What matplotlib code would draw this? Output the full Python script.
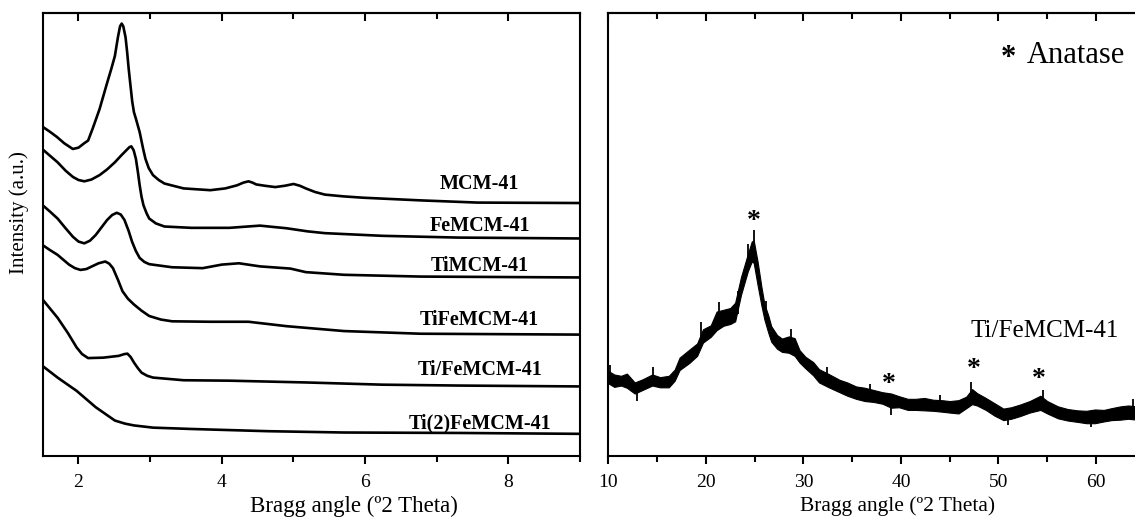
import matplotlib
matplotlib.use("Agg")
import matplotlib.pyplot as plt
from matplotlib.ticker import MultipleLocator

plt.rcParams['font.family'] = ['Liberation Serif', 'DejaVu Serif']

# ---------------- Left panel data (low-angle XRD, stacked, a.u.) ----------------
mcm_x = [1.5, 1.6, 1.7, 1.8, 1.921, 2.0, 2.08, 2.134, 2.2, 2.294, 2.401, 2.46, 2.508, 2.55,
         2.58, 2.603, 2.625, 2.657, 2.68, 2.70, 2.721, 2.75, 2.774, 2.80, 2.854, 2.90, 2.934,
         2.98, 3.040, 3.12, 3.2, 3.467, 3.840, 4.05, 4.213, 4.30, 4.373, 4.43, 4.48, 4.6,
         4.746, 4.88, 5.002, 5.09, 5.173, 5.3, 5.439, 5.7, 5.973, 6.772, 7.572, 9.0]
mcm_y = [74.3, 73.2, 72.0, 70.6, 69.3, 69.6, 70.6, 71.2, 74.0, 78.3, 84.3, 87.5, 90.3, 94.5,
         97.0, 97.6, 97.0, 94.5, 91.0, 87.5, 84.3, 80.0, 77.6, 76.2, 73.1, 69.5, 67.1,
         65.0, 63.4, 62.3, 61.5, 60.4, 60.0, 60.4, 61.1, 61.7, 62.0, 61.7, 61.3, 61.0,
         60.7, 61.0, 61.4, 61.0, 60.4, 59.6, 59.0, 58.6, 58.3, 57.7, 57.2, 57.1]

fe_x = [1.5, 1.6, 1.708, 1.82, 1.921, 2.0, 2.081, 2.18, 2.294, 2.40, 2.508, 2.6, 2.667, 2.71,
        2.737, 2.77, 2.801, 2.83, 2.854, 2.88, 2.907, 2.95, 2.987, 3.08, 3.2, 3.574, 4.107,
        4.533, 4.906, 5.2, 5.439, 6.239, 7.305, 9.0]
fe_y = [69.2, 67.8, 66.3, 64.4, 63.0, 62.3, 62.0, 62.4, 63.4, 64.7, 66.3, 67.9, 69.0, 69.7,
        69.9, 69.0, 67.1, 64.0, 61.1, 58.5, 56.6, 54.8, 53.6, 52.5, 51.8, 51.5, 51.5,
        52.0, 51.4, 50.7, 50.3, 49.7, 49.3, 49.1]

ti_x = [1.5, 1.6, 1.708, 1.82, 1.921, 2.0, 2.081, 2.16, 2.241, 2.33, 2.401, 2.47, 2.534, 2.59,
        2.641, 2.70, 2.747, 2.80, 2.854, 2.92, 2.987, 3.307, 3.734, 4.000, 4.240, 4.533,
        4.959, 5.173, 5.706, 6.772, 9.0]
ti_y = [56.6, 55.2, 53.6, 51.4, 49.5, 48.4, 48.0, 48.6, 49.9, 51.8, 53.3, 54.4, 54.9, 54.5,
        53.3, 50.8, 48.4, 46.3, 44.7, 43.8, 43.3, 42.6, 42.4, 43.2, 43.5, 42.8,
        42.3, 41.5, 40.9, 40.5, 40.3]

tife_x = [1.5, 1.6, 1.708, 1.868, 1.95, 2.028, 2.11, 2.188, 2.28, 2.374, 2.43, 2.481, 2.55,
          2.614, 2.69, 2.774, 2.88, 2.987, 3.15, 3.307, 3.840, 4.373, 4.906, 5.706, 6.772, 9.0]
tife_y = [47.6, 46.5, 45.4, 43.2, 42.4, 42.0, 42.2, 42.8, 43.5, 43.9, 43.4, 42.4, 39.8,
          37.2, 35.5, 34.2, 32.8, 31.6, 30.8, 30.4, 30.3, 30.3, 29.3, 28.2, 27.6, 27.4]

tisfe_x = [1.5, 1.708, 1.85, 1.974, 2.05, 2.134, 2.348, 2.561, 2.64, 2.683, 2.73, 2.774, 2.83,
           2.881, 2.96, 3.040, 3.467, 4.107, 5.173, 6.239, 7.305, 9.0]
tisfe_y = [35.3, 31.2, 27.8, 24.5, 23.0, 22.1, 22.2, 22.6, 23.0, 23.1, 22.3, 21.1, 19.8,
           18.8, 18.1, 17.7, 17.1, 17.0, 16.6, 16.1, 15.9, 15.7]

ti2fe_x = [1.5, 1.708, 1.974, 2.241, 2.508, 2.65, 2.774, 3.040, 3.574, 4.640, 5.706, 7.305, 9.0]
ti2fe_y = [20.3, 17.7, 14.7, 11.0, 8.0, 7.3, 6.9, 6.4, 6.1, 5.6, 5.3, 5.2, 5.0]

left_labels = ["MCM-41", "FeMCM-41", "TiMCM-41", "TiFeMCM-41", "Ti/FeMCM-41", "Ti(2)FeMCM-41"]
label_x = 7.6
label_y = [61.5, 51.9, 42.9, 30.8, 19.4, 7.4]

# ---------------- Right panel data (wide-angle XRD of Ti/FeMCM-41) ----------------
wa_x = [10.0, 10.6, 11.3, 11.9, 12.7, 13.5, 14.5, 15.3, 16.2, 16.8, 17.3, 18.3, 19.1, 19.7,
        20.5, 21.1, 21.8, 22.5, 23.0, 23.6, 24.3, 24.7, 24.9, 25.3, 25.7, 26.0, 26.4, 26.7,
        27.3, 27.8, 28.5, 29.1, 29.6, 30.2, 31.0, 31.6, 32.6, 33.7, 34.5, 35.4, 36.3, 37.2,
        38.1, 39.0, 39.8, 40.7, 41.5, 42.4, 43.3, 44.2, 45.0, 45.9, 46.7, 47.3, 47.8, 48.7,
        49.6, 50.5, 51.3, 52.2, 53.2, 54.3, 55.0, 56.1, 57.1, 58.1, 59.0, 59.9, 60.8, 61.6,
        62.5, 63.3, 64.2, 65.3]
wa_upper = [19.2, 18.4, 18.1, 18.6, 16.6, 17.3, 18.4, 17.8, 18.1, 19.5, 22.2, 24.0, 25.4, 28.6,
            29.5, 32.6, 33.0, 33.4, 34.6, 40.4, 45.6, 48.4, 48.7, 43.9, 38.1, 34.3, 31.7, 29.3,
            27.3, 26.5, 27.0, 26.6, 23.9, 22.4, 21.2, 19.6, 18.5, 17.2, 16.6, 15.7, 15.4, 14.9,
            14.4, 14.1, 13.5, 12.9, 12.9, 13.1, 12.7, 12.6, 12.4, 12.6, 13.4, 15.1, 14.2, 13.1,
            11.9, 10.7, 11.0, 11.6, 12.4, 13.6, 12.4, 11.2, 10.6, 10.3, 10.2, 10.5, 10.4, 10.8,
            11.2, 11.4, 11.2, 11.0]
wa_lower = [16.4, 15.6, 15.9, 15.4, 14.1, 14.9, 15.9, 15.5, 15.5, 17.0, 19.4, 21.0, 22.6, 25.6,
            26.9, 28.4, 29.4, 29.8, 30.4, 36.4, 41.7, 43.9, 43.6, 38.6, 33.9, 30.8, 27.8, 25.8,
            24.2, 23.5, 23.3, 22.6, 21.1, 19.8, 18.2, 16.6, 15.5, 14.4, 13.6, 12.9, 12.4, 12.2,
            11.8, 10.9, 11.0, 10.4, 10.4, 10.3, 10.2, 10.0, 9.8, 9.6, 10.8, 11.7, 11.4, 10.4,
            9.1, 8.1, 8.4, 9.0, 9.8, 10.4, 9.6, 8.5, 8.0, 7.7, 7.4, 7.4, 7.8, 8.1,
            8.2, 8.4, 8.2, 8.3]

# isolated noise spikes visible on the trace: angle, base level, tip level
spike_x = [10.2, 12.9, 14.6, 19.5, 21.3, 23.3, 24.3, 24.9, 26.2, 28.7, 32.4, 36.8, 39.0, 44.0,
           47.2, 51.0, 54.6, 59.5, 63.8]
spike_base = [17.8, 15.3, 17.2, 26.0, 30.5, 32.0, 43.0, 46.5, 31.5, 25.0, 17.2, 13.7, 12.5, 11.3,
              13.3, 9.5, 12.0, 8.9, 9.8]
spike_tip = [20.6, 12.4, 20.2, 30.2, 34.8, 37.2, 47.8, 51.0, 35.0, 28.6, 20.0, 16.3, 9.2, 13.8,
             16.8, 7.0, 15.0, 6.6, 12.8]

anatase_x = [24.9, 38.8, 47.5, 54.1]
anatase_y = [53.0, 16.2, 19.6, 17.3]

# ---------------- Figure ----------------
fig = plt.figure(figsize=(11.35, 5.19), dpi=100)
axL = fig.add_axes([0.0376, 0.1214, 0.4734, 0.8536])
axR = fig.add_axes([0.536, 0.1214, 0.464, 0.8536])

lw = 1.9
for xs, ys in [(mcm_x, mcm_y), (fe_x, fe_y), (ti_x, ti_y), (tife_x, tife_y),
               (tisfe_x, tisfe_y), (ti2fe_x, ti2fe_y)]:
    axL.plot(xs, ys, color='black', lw=lw, solid_joinstyle='round', solid_capstyle='round')
for lab, ly in zip(left_labels, label_y):
    axL.text(label_x, ly, lab, ha='center', va='center', fontsize=14.5, fontweight='bold')

axL.set_xlim(1.5, 9.0)
axL.set_ylim(0, 100)
axL.xaxis.set_major_locator(MultipleLocator(2))
axL.xaxis.set_minor_locator(MultipleLocator(1))

axR.fill_between(wa_x, wa_lower, wa_upper, color='black', lw=0.8, edgecolor='black')
axR.vlines(spike_x, spike_base, spike_tip, color='black', lw=1.3)
for ax_, ay_ in zip(anatase_x, anatase_y):
    axR.text(ax_, ay_, '*', ha='center', va='center', fontsize=20, fontweight='bold')
axR.text(51.0, 89.8, '*', ha='center', va='center', fontsize=22, fontweight='bold')
axR.text(52.9, 90.4, 'Anatase', ha='left', va='center', fontsize=22)
axR.text(47.1, 28.2, 'Ti/FeMCM-41', ha='left', va='center', fontsize=18)
axR.set_xlim(10, 64)
axR.set_ylim(0, 100)
axR.xaxis.set_major_locator(MultipleLocator(10))
axR.xaxis.set_minor_locator(MultipleLocator(5))
axR.spines['right'].set_visible(False)

for ax in (axL, axR):
    ax.set_yticks([])
    for s in ax.spines.values():
        s.set_linewidth(1.5)
    ax.tick_params(axis='x', which='major', direction='out', length=6, width=1.5,
                   labelsize=14, pad=7, top=False)
    ax.tick_params(axis='x', which='minor', direction='out', length=4, width=1.5, top=False)
    sec = ax.secondary_xaxis('top')
    sec.xaxis.set_major_locator(ax.xaxis.get_major_locator())
    sec.xaxis.set_minor_locator(ax.xaxis.get_minor_locator())
    sec.tick_params(axis='x', which='major', direction='in', length=6, width=1.5, labeltop=False)
    sec.tick_params(axis='x', which='minor', direction='in', length=4, width=1.5)
    sec.spines['top'].set_linewidth(1.5)

axL.set_xlabel('Bragg angle (º2 Theta)', fontsize=16.5)
axR.set_xlabel('Bragg angle (º2 Theta)', fontsize=15.5)
axL.xaxis.label.set_va('center')
axR.xaxis.label.set_va('center')
axL.xaxis.set_label_coords(0.579, -0.114)
axR.xaxis.set_label_coords(0.55, -0.114)
axL.set_ylabel('Intensity (a.u.)', fontsize=15)
axL.yaxis.label.set_va('center')
axL.yaxis.set_label_coords(-0.043, 0.55)

fig.savefig('out.png', dpi=100)
